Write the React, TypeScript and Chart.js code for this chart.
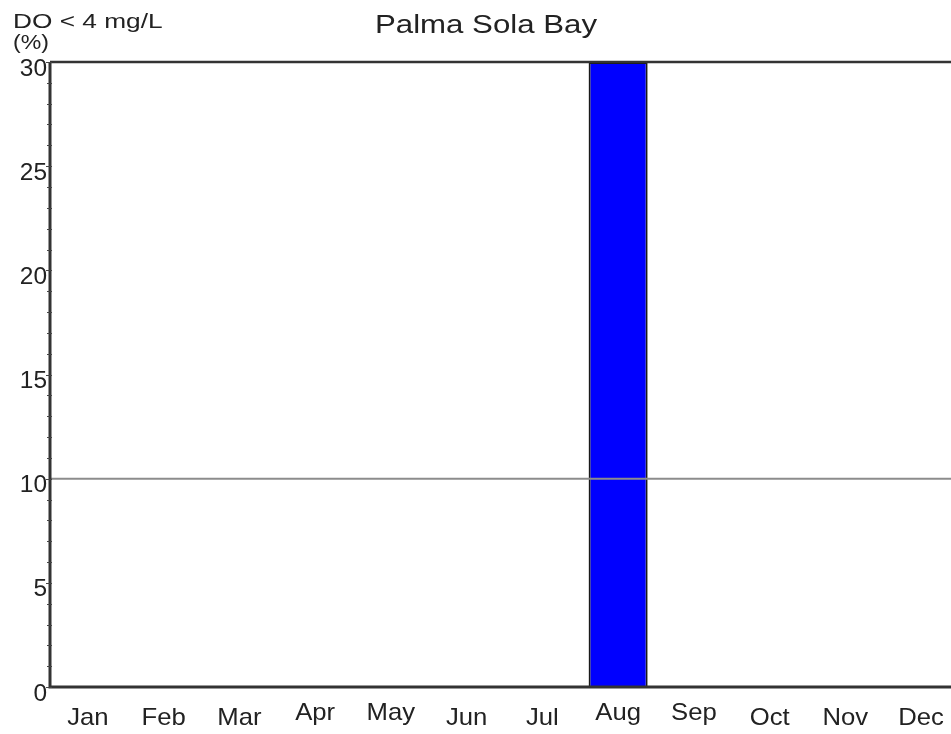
import React, { useEffect, useRef } from "react";
import { Chart, registerables } from "chart.js";

Chart.register(...registerables);

// Monthly share of samples with dissolved oxygen below 4 mg/L
const MONTHS = ["Jan", "Feb", "Mar", "Apr", "May", "Jun", "Jul", "Aug", "Sep", "Oct", "Nov", "Dec"];
const LOW_DO_PERCENT = [0, 0, 0, 0, 0, 0, 0, 30, 0, 0, 0, 0];
const Y_TICKS = [0, 5, 10, 15, 20, 25, 30];
const REFERENCE_LEVEL = 10;
const TITLE = "Palma Sola Bay";
const AXIS_TITLE = ["DO < 4 mg/L", "(%)"];

const TEXT_COLOR = "#222";
const FONT = "'Liberation Sans', Arial, sans-serif";
// month labels that sit a little higher on the baseline row
const RAISED_LABELS = new Set([3, 4, 7, 8]);

function drawText(
  ctx: CanvasRenderingContext2D,
  text: string,
  x: number,
  y: number,
  size: number,
  align: CanvasTextAlign,
  scaleX = 1,
  baseline: CanvasTextBaseline = "alphabetic"
) {
  ctx.save();
  ctx.translate(x, y);
  ctx.scale(scaleX, 1);
  ctx.font = `${size}px ${FONT}`;
  ctx.fillStyle = TEXT_COLOR;
  ctx.textAlign = align;
  ctx.textBaseline = baseline;
  ctx.fillText(text, 0, 0);
  ctx.restore();
}

const framePlugin = {
  id: "frame",
  afterDatasetsDraw(chart: any) {
    const ctx: CanvasRenderingContext2D = chart.ctx;
    const { left, right, top, bottom } = chart.chartArea;
    const x = chart.scales.x;
    const y = chart.scales.y;

    ctx.save();
    // reference level line
    const yRef = y.getPixelForValue(REFERENCE_LEVEL);
    ctx.strokeStyle = "#8c8c8c";
    ctx.lineWidth = 2;
    ctx.beginPath();
    ctx.moveTo(left, yRef);
    ctx.lineTo(right, yRef);
    ctx.stroke();

    // frame: top border, y axis and baseline
    ctx.strokeStyle = "#333";
    ctx.lineWidth = 2.5;
    ctx.beginPath();
    ctx.moveTo(left, top);
    ctx.lineTo(right, top);
    ctx.stroke();
    ctx.lineWidth = 3;
    ctx.beginPath();
    ctx.moveTo(left, top);
    ctx.lineTo(left, bottom);
    ctx.moveTo(left - 1.5, bottom);
    ctx.lineTo(right, bottom);
    ctx.stroke();

    // minor ticks on the y axis
    ctx.lineWidth = 1;
    ctx.strokeStyle = "#444";
    const min = y.min as number;
    const max = y.max as number;
    for (let v = min; v <= max; v += 1) {
      const py = Math.round(y.getPixelForValue(v)) + 0.5;
      ctx.beginPath();
      ctx.moveTo(left - (v % 5 === 0 ? 4 : 3), py);
      ctx.lineTo(left + 2, py);
      ctx.stroke();
    }
    ctx.restore();

    // y tick labels
    Y_TICKS.forEach((v) => {
      drawText(ctx, String(v), left - 3, y.getPixelForValue(v) + 7, 24, "right", 1.02, "middle");
    });

    // month labels
    MONTHS.forEach((m, i) => {
      const px = x.getPixelForValue(i);
      const py = bottom + 38 - (RAISED_LABELS.has(i) ? 5 : 0);
      drawText(ctx, m, px, py, 24, "center", 1.07);
    });

    // titles
    drawText(ctx, TITLE, 486, 33, 26, "center", 1.2);
    drawText(ctx, AXIS_TITLE[0], 13, 28, 21, "left", 1.25);
    drawText(ctx, AXIS_TITLE[1], 13, 49, 21, "left", 1.1);
  },
};

export default function App() {
  const canvasRef = useRef<HTMLCanvasElement>(null);

  useEffect(() => {
    if (!canvasRef.current) return;
    const chart = new Chart(canvasRef.current, {
      type: "bar",
      data: {
        labels: MONTHS,
        datasets: [
          {
            data: LOW_DO_PERCENT,
            backgroundColor: "#0000ff",
            borderColor: "#1a1a1a",
            borderWidth: 2,
            barPercentage: 0.78,
            categoryPercentage: 1,
          },
        ],
      },
      options: {
        responsive: false,
        animation: false,
        devicePixelRatio: 1,
        layout: { padding: { left: 50, top: 62, right: 1, bottom: 47 } },
        plugins: {
          legend: { display: false },
          title: { display: false },
          tooltip: { enabled: false },
        },
        scales: {
          x: { display: false, offset: true },
          y: { display: false, min: 0, max: 30 },
        },
      },
      plugins: [framePlugin],
    });
    return () => chart.destroy();
  }, []);

  return (
    <div
      style={{
        position: "absolute",
        left: 0,
        top: 0,
        width: 951,
        height: 734,
        overflow: "hidden",
        background: "#fff",
      }}
    >
      <canvas ref={canvasRef} width={960} height={734} />
    </div>
  );
}
